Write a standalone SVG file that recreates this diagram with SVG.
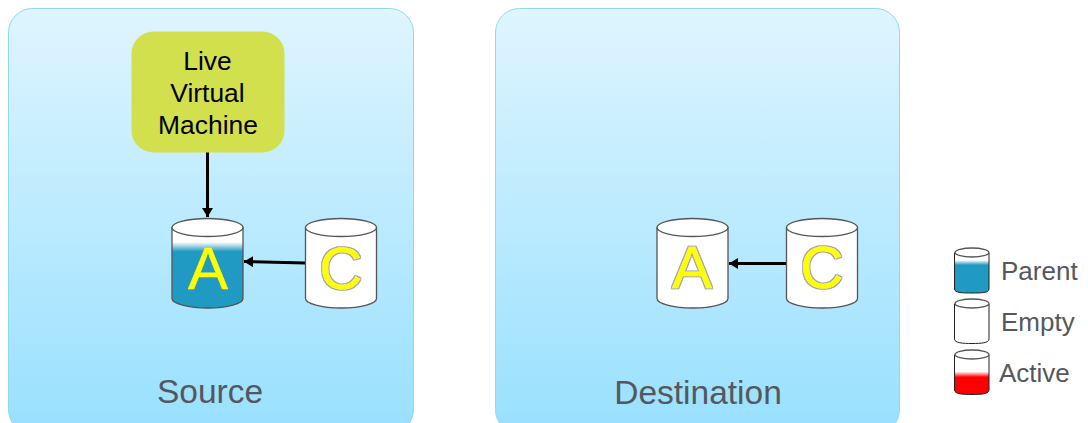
<svg xmlns="http://www.w3.org/2000/svg" width="1088" height="423" viewBox="0 0 1088 423">
<style>
text{font-family:"Liberation Sans",Arial,sans-serif}
.panel{fill:url(#bg);stroke:#8fd8ee;stroke-width:1}
.lab{font-size:33.500px;fill:#54585c;text-anchor:middle}
.leg{font-size:26px;fill:#54585c}
.vm{font-size:26.400px;fill:#000;text-anchor:middle}
.big{font-size:60px;fill:#ffff00;stroke:#ffff00;stroke-width:0.400px;text-anchor:middle}
.halo{filter:url(#halo)}
.cyl{stroke:#555;stroke-width:1.300}
.top{fill:#fff;stroke:#555;stroke-width:1.300}
.conn{stroke:#000;stroke-width:3;fill:none;marker-end:url(#ah)}
</style>
<defs>
<linearGradient id="bg" x1="0" y1="0" x2="0" y2="1"><stop offset="0" stop-color="#dff5fe"/><stop offset="1" stop-color="#98e0fe"/></linearGradient>
<linearGradient id="parent" x1="0" y1="0" x2="0" y2="1"><stop offset="0.18" stop-color="#fff"/><stop offset="0.3" stop-color="#209ac2"/><stop offset="1" stop-color="#209ac2"/></linearGradient>
<linearGradient id="active" x1="0" y1="0" x2="0" y2="1"><stop offset="0.42" stop-color="#fff"/><stop offset="0.56" stop-color="#ff0000"/><stop offset="1" stop-color="#ff0000"/></linearGradient>
<filter id="halo" x="-10%" y="-10%" width="120%" height="120%"><feMorphology in="SourceAlpha" operator="dilate" radius="0.500" result="d"/><feFlood flood-color="#a0a0a0"/><feComposite in2="d" operator="in" result="o"/><feMerge><feMergeNode in="o"/><feMergeNode in="SourceGraphic"/></feMerge></filter>
<marker id="ah" markerUnits="userSpaceOnUse" markerWidth="10" markerHeight="11" refX="9" refY="5.500" orient="auto"><path d="M0 0L9 5.500L0 11Z" fill="#000"/></marker>
<g id="cyl-shape"><path d="M0 9V80C0 85 16 89.500 36 89.500S71 85 71 80V9Z"/></g>
</defs>
<g id="source"><rect class="panel" x="8.500" y="8.500" width="405" height="425" rx="24"/><text class="lab" x="210" y="403">Source</text></g>
<g id="destination"><rect class="panel" x="495.500" y="8.500" width="404" height="425" rx="24"/><text class="lab" x="698" y="404">Destination</text></g>
<g id="connectors">
<path class="conn" d="M207.500 152V217"/>
<path class="conn" d="M305 263L244 261.500"/>
<path class="conn" d="M786 263.500H729"/>
</g>
<g id="vm"><rect x="131.500" y="31.500" width="153" height="121" rx="22" fill="#d2e04e"/>
<text class="vm" x="207.500" y="70">Live</text><text class="vm" x="207.500" y="102">Virtual</text><text class="vm" x="208" y="134">Machine</text></g>
<g id="src-a"><use href="#cyl-shape" x="172" y="218.500" class="cyl" fill="url(#parent)"/><ellipse class="top" cx="207.500" cy="227.500" rx="35.500" ry="9"/><text class="big" x="208" y="289">A</text></g>
<g id="src-c"><use href="#cyl-shape" x="305.500" y="218.500" class="cyl" fill="#fff"/><ellipse class="top" cx="341" cy="227.500" rx="35.500" ry="9"/><text class="big halo" x="341" y="289">C</text></g>
<g id="dst-a"><use href="#cyl-shape" x="657" y="218.500" class="cyl" fill="#fff"/><ellipse class="top" cx="692.500" cy="227.500" rx="35.500" ry="9"/><text class="big halo" x="692" y="288">A</text></g>
<g id="dst-c"><use href="#cyl-shape" x="786.500" y="218.500" class="cyl" fill="#fff"/><ellipse class="top" cx="822" cy="227.500" rx="35.500" ry="9"/><text class="big halo" x="822" y="288">C</text></g>
<g id="legend-parent"><path d="M954.500 253V289C954.500 293 963 293 972 293S989 293 989 289V253Z" fill="url(#parent)" stroke="#222" stroke-width="1"/><ellipse class="top" cx="972" cy="252.500" rx="17" ry="4.500"/><text class="leg" x="1001" y="280">Parent</text></g>
<g id="legend-empty"><path d="M954.500 304V339C954.500 343 963 343.500 972 343.500S989 343 989 339V304Z" fill="#fff" stroke="#222" stroke-width="1"/><ellipse class="top" cx="972" cy="303.500" rx="17" ry="4.500"/><text class="leg" x="1001" y="331">Empty</text></g>
<g id="legend-active"><path d="M954.500 355V390C954.500 394 963 394.500 972 394.500S989 394 989 390V355Z" fill="url(#active)" stroke="#222" stroke-width="1"/><ellipse class="top" cx="972" cy="354.500" rx="17" ry="4.500"/><text class="leg" x="999" y="382">Active</text></g>
</svg>
